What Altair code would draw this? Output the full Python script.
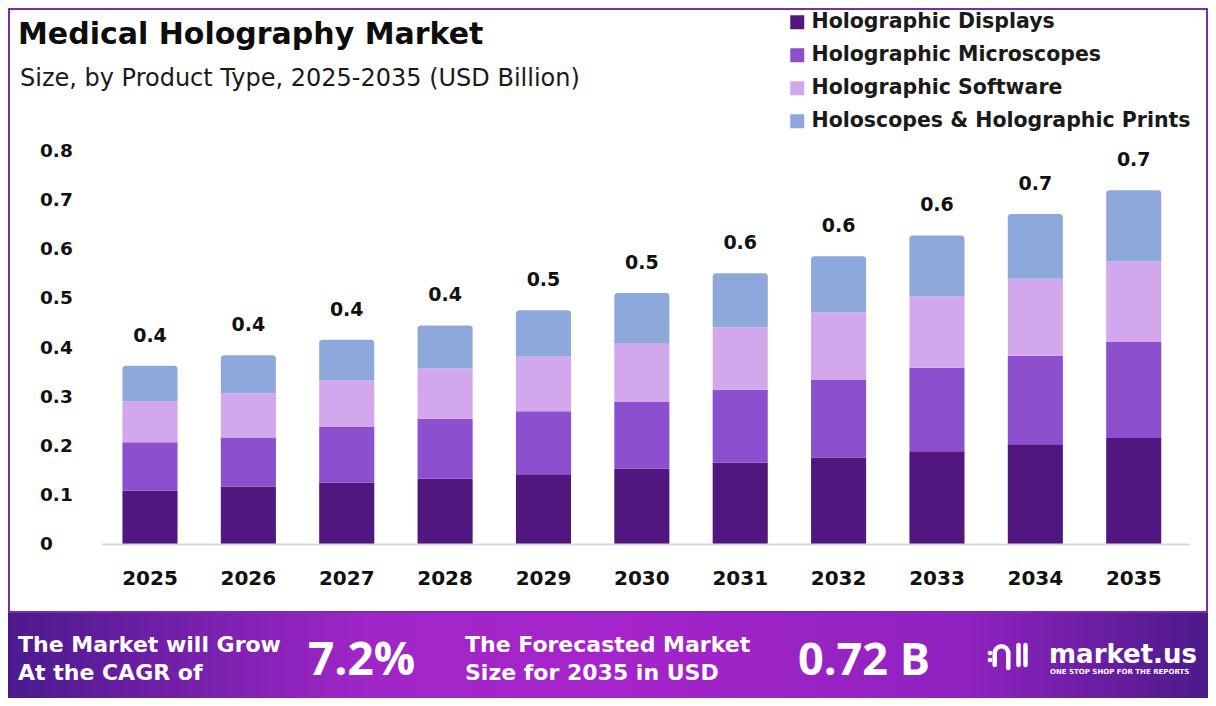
import altair as alt
import pandas as pd

# ---- data ----
years = ["2025", "2026", "2027", "2028", "2029", "2030", "2031", "2032", "2033", "2034", "2035"]
segments = ["Holographic Displays", "Holographic Microscopes", "Holographic Software",
            "Holoscopes & Holographic Prints"]
displays = [0.109, 0.117, 0.125, 0.133, 0.142, 0.153, 0.166, 0.176, 0.189, 0.203, 0.216]
microscopes = [0.098, 0.100, 0.113, 0.122, 0.128, 0.137, 0.148, 0.159, 0.170, 0.180, 0.195]
software = [0.083, 0.090, 0.095, 0.102, 0.111, 0.119, 0.127, 0.136, 0.145, 0.157, 0.164]
holoscopes = [0.073, 0.077, 0.083, 0.088, 0.095, 0.102, 0.110, 0.115, 0.124, 0.132, 0.145]
colors = ["#51177f", "#8c4fcd", "#d3a7ec", "#8fa8db"]
y_ticks = [0, 0.1, 0.2, 0.3, 0.4, 0.5, 0.6, 0.7, 0.8]
y_tick_labels = ["0", "0.1", "0.2", "0.3", "0.4", "0.5", "0.6", "0.7", "0.8"]

cagr_text = "7.2%"
forecast_text = "0.72 B"

series = [displays, microscopes, software, holoscopes]
rows = []
for si, (seg, vals) in enumerate(zip(segments[:3], series[:3])):
    for y, v in zip(years, vals):
        rows.append({"year": y, "segment": seg, "value": v, "ord": si})
df = pd.DataFrame(rows)
lower = [displays[i] + microscopes[i] + software[i] for i in range(len(years))]
top_df = pd.DataFrame({"year": years, "segment": segments[3], "base": lower,
                       "top": [lower[i] + holoscopes[i] for i in range(len(years))]})
totals = pd.DataFrame({"year": years,
                       "total": [sum(s[i] for s in series) for i in range(len(years))]})
yt = pd.DataFrame({"tick": y_ticks, "label": y_tick_labels})
xt = pd.DataFrame({"year": years})

W, H = 1200, 690
one = pd.DataFrame({"a": [0]})
FONT = "DejaVu Sans"

xscale = alt.Scale(domain=years, range=[92.8, 1174.9], paddingInner=0.44, paddingOuter=0.22)
yscale = alt.Scale(domain=[0, 0.8], range=[536, 143], nice=False, zero=True)
cscale = alt.Scale(domain=segments, range=colors)

# banner
banner = alt.Chart(one).mark_rect(
    fill=alt.Gradient(gradient="linear", x1=0, x2=1, y1=0, y2=0, stops=[
        alt.GradientStop(offset=0, color="#4b1a8e"),
        alt.GradientStop(offset=0.3, color="#a026c8"),
        alt.GradientStop(offset=0.5, color="#a624cb"),
        alt.GradientStop(offset=0.8, color="#8f22c0"),
        alt.GradientStop(offset=1, color="#4c1a8a"),
    ])
).encode(x=alt.value(0), x2=alt.value(W), y=alt.value(604), y2=alt.value(H))

border = alt.Chart(one).mark_rect(fillOpacity=0, stroke="#7b2fa5", strokeWidth=2).encode(
    x=alt.value(1), x2=alt.value(W - 1), y=alt.value(1), y2=alt.value(604))

bars = alt.Chart(df).mark_bar().encode(
    x=alt.X("year:O", scale=xscale, sort=years, axis=None),
    y=alt.Y("value:Q", stack="zero", scale=yscale, axis=None),
    color=alt.Color("segment:N", scale=cscale,
                    legend=alt.Legend(title=None, orient="none", legendX=779, legendY=4,
                                      symbolType="square", symbolSize=196, symbolStrokeWidth=0,
                                      labelFont=FONT, labelFontSize=20.5, labelFontWeight="bold",
                                      labelColor="#1a1a1a", rowPadding=12, labelOffset=4,
                                      labelLimit=500, padding=0)),
    order=alt.Order("ord:Q", sort="ascending"),
)

top_bars = alt.Chart(top_df).mark_bar(cornerRadiusTopLeft=3, cornerRadiusTopRight=3).encode(
    x=alt.X("year:O", sort=years, axis=None),
    y=alt.Y("base:Q", axis=None),
    y2="top:Q",
    color=alt.Color("segment:N", scale=cscale, legend=None),
)

baseline = alt.Chart(one).mark_rule(color="#d9d9d9", strokeWidth=2).encode(
    y=alt.value(536.5), x=alt.value(94), x2=alt.value(1182))

xlabels = alt.Chart(xt).mark_text(font=FONT, fontSize=20, fontWeight="bold", baseline="middle",
                                  color="#111111").encode(
    x=alt.X("year:O", sort=years, axis=None), y=alt.value(571), text="year:N")

ylabels = alt.Chart(yt).mark_text(font=FONT, fontSize=18.5, fontWeight="bold", baseline="middle",
                                  align="left", color="#111111").encode(
    y=alt.Y("tick:Q", axis=None), x=alt.value(32), text="label:N")

labels = alt.Chart(totals).mark_text(font=FONT, fontSize=19, fontWeight="bold", dy=-30,
                                      baseline="middle", color="#111111").encode(
    x=alt.X("year:O", sort=years, axis=None),
    y=alt.Y("total:Q", axis=None),
    text=alt.Text("total:Q", format=".1f"),
)

def txt(s, x, y, size, weight="normal", color="#111111", font=FONT, align="left", baseline="alphabetic"):
    return alt.Chart(one).mark_text(text=s, font=font, fontSize=size, fontWeight=weight, color=color,
                                    align=align, baseline=baseline).encode(
        x=alt.value(x), y=alt.value(y))

title = txt("Medical Holography Market", 10, 36, 30, "bold", "#0d0d0d")
subtitle = txt("Size, by Product Type, 2025-2035 (USD Billion)", 12, 78, 24, "normal", "#1a1a1a")

b1 = txt("The Market will Grow", 10, 644, 22, "bold", "white")
b2 = txt("At the CAGR of", 10, 672, 22, "bold", "white")
b3 = txt(cagr_text, 300, 667, 46, "bold", "white", font="Open Sans")
b4 = txt("The Forecasted Market", 457, 644, 22, "bold", "white")
b5 = txt("Size for 2035 in USD", 457, 672, 22, "bold", "white")
b6 = txt(forecast_text, 790, 667, 45, "bold", "white", font="Open Sans")
logo1 = txt("market.us", 1041, 655, 26, "bold", "white")
logo2 = txt("ONE STOP SHOP FOR THE REPORTS", 1042, 666, 7, "bold", "white")

# logo icon (decorative)
def dot(x, y):
    return alt.Chart(one).mark_point(filled=True, color="white", size=22, opacity=1).encode(
        x=alt.value(x), y=alt.value(y))

def bar_(x, y1, y2):
    return alt.Chart(one).mark_rule(color="white", strokeWidth=4.5, strokeCap="round").encode(
        x=alt.value(x), y=alt.value(y1), y2=alt.value(y2))

arch = alt.Chart(one).mark_arc(color="white", theta=4.712, theta2=7.854, radius=9, radius2=4.5).encode(
    x=alt.value(993.5), y=alt.value(645))
icon = [dot(982, 645), dot(982, 652), arch, bar_(986.7, 645, 657), bar_(1000.3, 645, 660),
        bar_(1010.5, 637, 657), bar_(1017.5, 637, 657)]

chart = alt.layer(
    banner, border, bars, top_bars, baseline, xlabels, ylabels, labels, title, subtitle,
    b1, b2, b3, b4, b5, b6, logo1, logo2, *icon
).properties(
    width=W, height=H, autosize=alt.AutoSizeParams(type="none"), padding=0, background="white"
).configure_view(stroke=None)

chart.save("out.html", embed_options={"renderer": "svg", "actions": False})
